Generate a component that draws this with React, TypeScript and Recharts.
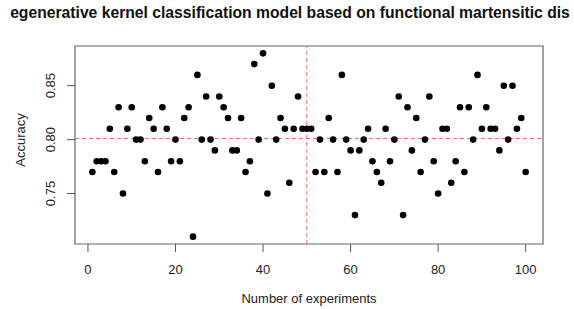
import { ScatterChart, Scatter, XAxis, YAxis, ReferenceLine, ReferenceArea } from 'recharts'

const experiments = Array.from({ length: 100 }, (_, i) => i + 1)

const accuracy = [
    0.77, 0.78, 0.78, 0.78, 0.81, 0.77, 0.83, 0.75, 0.81, 0.83,
    0.80, 0.80, 0.78, 0.82, 0.81, 0.77, 0.83, 0.81, 0.78, 0.80,
    0.78, 0.82, 0.83, 0.71, 0.86, 0.80, 0.84, 0.80, 0.79, 0.84,
    0.83, 0.82, 0.79, 0.79, 0.82, 0.77, 0.78, 0.87, 0.80, 0.88,
    0.75, 0.85, 0.80, 0.82, 0.81, 0.76, 0.81, 0.84, 0.81, 0.81,
    0.81, 0.77, 0.80, 0.77, 0.82, 0.80, 0.77, 0.86, 0.80, 0.79,
    0.73, 0.79, 0.80, 0.81, 0.78, 0.77, 0.76, 0.81, 0.78, 0.80,
    0.84, 0.73, 0.83, 0.79, 0.82, 0.77, 0.80, 0.84, 0.78, 0.75,
    0.81, 0.81, 0.76, 0.78, 0.83, 0.77, 0.83, 0.80, 0.86, 0.81,
    0.83, 0.81, 0.81, 0.79, 0.85, 0.80, 0.85, 0.81, 0.82, 0.77,
]

const xTicks = [0, 20, 40, 60, 80, 100]
const yTicks = [0.75, 0.8, 0.85]
const xDomain = [-2.96, 103.96]
const yDomain = [0.7032, 0.8868]
const meanLine = 0.801
const splitLine = 50

const title = 'egenerative kernel classification model based on functional martensitic dis'

const FONT = '"Liberation Sans", Arial, sans-serif'

const data = experiments.map((x, i) => ({ x, y: accuracy[i] }))

function YTick({ y, payload }: { y?: number; payload?: { value: number } }) {
    return (
        <text
            transform={`translate(${55}, ${y}) rotate(-90)`}
            textAnchor="middle"
            fontSize={13}
            fontFamily={FONT}
            fill="#222"
        >
            {payload?.value.toFixed(2)}
        </text>
    )
}

function Dot({ cx, cy }: { cx?: number; cy?: number }) {
    return <circle cx={cx} cy={cy} r={3.3} fill="#000" />
}

export default function App() {
    return (
        <div
            style={{
                position: 'absolute',
                left: 0,
                top: 0,
                width: 574,
                height: 309,
                overflow: 'hidden',
                background: '#fff',
            }}
        >
            <div
                style={{
                    position: 'absolute',
                    top: 4,
                    left: -110,
                    width: 800,
                    textAlign: 'center',
                    whiteSpace: 'nowrap',
                    fontFamily: FONT,
                    fontWeight: 'bold',
                    fontSize: 15.7,
                    color: '#111',
                }}
            >
                {title}
            </div>
            <ScatterChart
                width={574}
                height={309}
                margin={{ top: 46, right: 31, left: 0, bottom: 0 }}
                style={{ position: 'absolute', left: 0, top: 0 }}
            >
                <XAxis
                    type="number"
                    dataKey="x"
                    domain={xDomain}
                    ticks={xTicks}
                    allowDataOverflow
                    height={65}
                    axisLine={false}
                    tickSize={8}
                    tickMargin={13}
                    tickLine={{ stroke: '#555' }}
                    tick={{ fill: '#222', fontSize: 13, fontFamily: FONT }}
                    label={{
                        content: () => (
                            <text x={309} y={303} textAnchor="middle" fontSize={13} fontFamily={FONT} fill="#222">
                                Number of experiments
                            </text>
                        ),
                    }}
                />
                <YAxis
                    type="number"
                    dataKey="y"
                    domain={yDomain}
                    ticks={yTicks}
                    allowDataOverflow
                    width={75}
                    axisLine={false}
                    tickSize={8}
                    tickLine={{ stroke: '#555' }}
                    tick={<YTick />}
                    label={{
                        content: () => (
                            <text
                                transform="translate(25, 140) rotate(-90)"
                                textAnchor="middle"
                                fontSize={13}
                                fontFamily={FONT}
                                fill="#222"
                            >
                                Accuracy
                            </text>
                        ),
                    }}
                />
                <ReferenceArea
                    x1={xDomain[0]}
                    x2={xDomain[1]}
                    y1={yDomain[0]}
                    y2={yDomain[1]}
                    fill="none"
                    stroke="#666"
                    strokeWidth={1.2}
                />
                <ReferenceLine y={meanLine} stroke="#ff4d4d" strokeOpacity={0.85} strokeDasharray="4 3" />
                <ReferenceLine x={splitLine} stroke="#ff4d4d" strokeOpacity={0.85} strokeDasharray="4 3" />
                <Scatter data={data} shape={<Dot />} isAnimationActive={false} />
            </ScatterChart>
        </div>
    )
}
